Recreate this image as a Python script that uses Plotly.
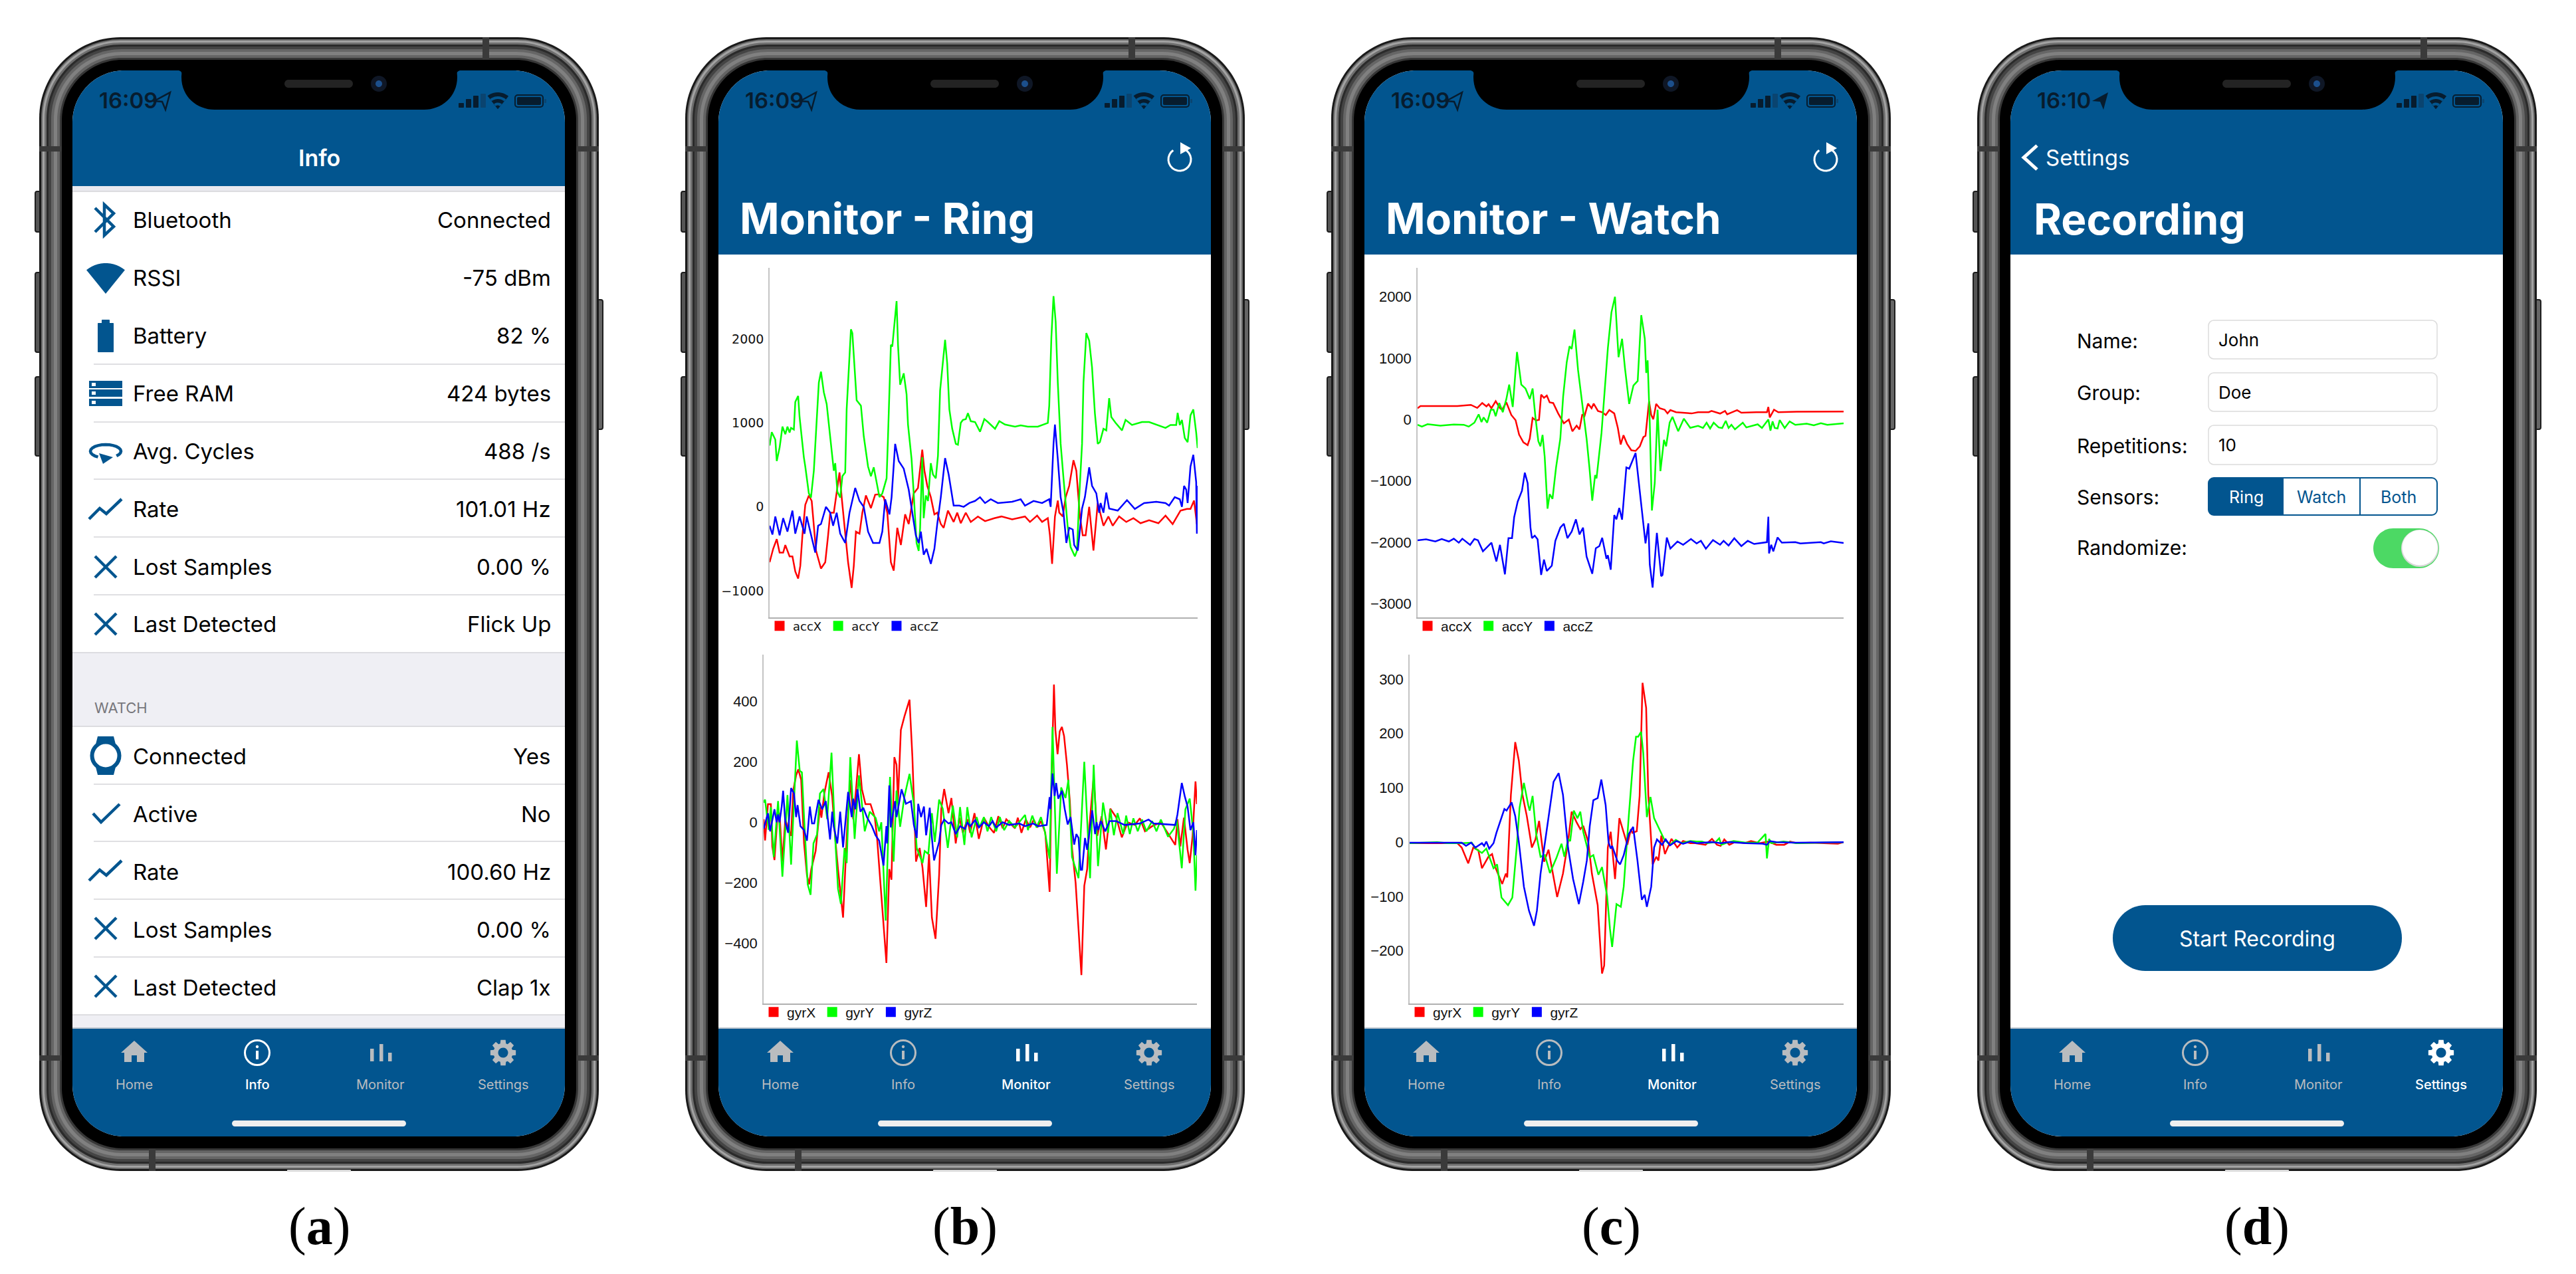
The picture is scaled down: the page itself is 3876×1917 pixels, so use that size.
import math

import plotly.graph_objects as go

# sample axis for all four charts runs 0..300
ring_acc_x_t = [0,2.5,5,7,9.5,11,14,16,18,20,21.5,23,25,27.5,29.5,32.5,36,39,41,42.5,45,47,49,50.5,52.5,55,57.5,59,60.5,63,65,67.5,71,74,76.5,80,82.5,85,87,89.5,92,95,97.5,101,104,107,108.5,110.5,113,115.5,117.5,120,122,125,129,131.5,134,137.5,141,146,151,157.5,162.5,170,179,182.5,187.5,191,195,196.5,198,200,202,203,205.5,207.5,210,213,215,217.5,219.5,221.5,224,227,230,234,237.5,240.5,245,250,255,260,266,272.5,277.5,282.5,288,292.5,295,297.5,299.5,300]
ring_acc_x_v = [-660,-500,-385,-545,-545,-455,-590,-590,-770,-855,-705,-340,25,135,70,-520,-735,-660,-340,-70,-70,160,410,115,-250,-660,-965,-705,-295,-320,-70,135,-15,145,150,115,-70,-660,-760,-250,-455,-90,-205,160,225,680,430,250,115,-90,-70,-205,-250,-45,-180,-70,-195,-70,-180,-115,-170,-135,-115,-150,-115,-180,-105,-180,-135,-340,-680,-115,75,-70,-115,115,250,555,430,-115,-340,-340,0,-520,45,-225,-115,-225,-115,-180,-135,-195,-160,-195,-105,-205,-45,-25,-25,75,-205,60]
ring_acc_y_t = [0,1.5,4,5,7,9,11,12.5,14,15,17,18,20,21,24,25,27.5,29,31,32.5,34.5,36,38,40,42.5,45,46,47.5,49.5,51,53,54,56,57,58,59.5,61,64,66,69,71,73,75,77,79,82,83,85,86,87.5,89,90,91.5,94,96,97,99.5,101,103,104.5,105.5,107,108,109.5,111,113,114.5,116.5,118,119.5,121,123,124.5,126,128,130.5,132,134,135.5,137.5,139,141,144,147.5,150.5,153,158,161,165,172,176,181,188,195,196,197.5,199,200.5,202,204,206,207,209,211,214,215.5,217,219,220,222,224,226,228,230,231.5,234,236,238,239.5,242.5,247,249.5,254,261,266,277.5,281,285,286,287.5,289,291,293,295,297,299,300]
ring_acc_y_v = [730,890,800,545,705,955,865,955,885,940,920,1250,1320,1070,590,480,160,110,430,930,1480,1610,1365,1225,840,430,520,180,110,365,410,1160,1795,2115,2070,1705,1270,1205,840,480,365,470,295,115,160,340,840,1930,1910,2200,2450,1930,1455,1590,1340,980,570,160,-430,-525,-250,590,-135,135,70,520,385,340,610,1385,1660,1990,1705,1160,930,750,740,1000,1035,1045,1115,1020,1010,895,1045,1010,930,1020,980,955,970,955,955,1000,1205,2020,2510,2205,1480,750,340,160,-250,-480,-590,-520,115,750,1480,2070,1980,1660,1115,750,770,930,910,1295,1070,1000,910,1035,975,1010,1010,940,975,975,1120,975,1035,820,770,1090,1160,885,700]
ring_acc_z_t = [0,2,4,7,9.5,12.5,16,18,21,24.5,26,29,32,34,36,39.5,42.5,44.5,47,49.5,53,56,60,63,66,69,72.5,77,79,81,84,85.5,88,90.5,94,97.5,100,102.5,104.5,106,108,110,113,115.5,117.5,120,123,125.5,129,133,136,140,144,147.5,151,155,160,170,176,179,185,191,196,197,199,200,202,204,206,208,210,212.5,213.5,216,219,221,224,226,229,231,232,234,236,238,244,250.5,256,262.5,271,277.5,280,284,287.5,289,290.5,292,293,295,297,299,299.5,300]
ring_acc_z_v = [-225,-330,-115,-340,-135,-295,-45,-320,-115,-320,-115,-340,-545,-225,-205,0,-70,-225,-70,-320,-430,-70,225,70,0,-295,-430,-430,-295,90,-90,115,750,545,455,205,-70,-340,-430,-295,-570,-500,-680,-500,-205,115,580,385,15,15,0,45,70,115,45,90,45,60,90,15,70,45,90,0,750,980,570,115,-70,-430,-250,-270,-455,-520,-20,115,470,250,160,-70,45,-70,170,-20,-45,80,-25,45,60,45,15,115,90,0,250,205,45,480,620,295,-320,250]

ring_gyr_x_t = [0,1,3,5,6,7.5,9.5,11,13,15,17,19,20.5,22.5,24,26,28,30,31.5,33,36,37.5,39,40,42,45,47.5,49.5,51.5,55,56.5,58,60,62,64,66,68,70.5,74,77,78.5,81,83.5,85,87,88.5,90.5,92,93,95,97.5,101,103,105.5,108,110,112.5,114.5,116.5,119,121.5,123,125,128,130,133,135.5,138,141,143,146,149,152.5,156,159.5,162.5,165.5,168,174,176,178.5,181.5,184.5,187,189.5,192,195,198,199.5,201,202,203.5,205,206.5,208,210,212,213.5,216,218,220,222,224,225.5,228.5,231,234,237,240,244,248,252,257,260.5,264,269,275,279,285,286.5,288.5,291,293.5,295,297,299,300]
ring_gyr_x_v = [10,-60,60,60,-80,-125,15,30,-130,10,-20,-45,105,155,175,140,-70,-175,-205,-155,-95,-15,50,15,95,165,85,-50,-155,-315,-150,0,140,10,110,225,110,60,60,15,-50,-210,-350,-465,-155,-190,215,190,70,305,350,405,215,-130,-85,-150,-280,-105,-315,-385,-175,45,110,30,80,-70,15,-35,10,-35,30,-55,15,-15,-35,20,-20,10,-20,15,-35,9,-17,9,-17,4,-35,-230,175,455,305,225,300,315,285,190,70,-85,-200,-365,-505,-210,-155,-15,150,-45,20,-90,45,17,-50,0,-9,13,-30,-13,0,-30,-75,10,-80,15,-90,-135,-45,135,60]
ring_gyr_y_t = [0,1,3.5,5,7,10,13,16.5,19,22,23,25,26.5,28,30.5,32.5,34.5,37,39,41.5,44,47,49.5,51.5,53.5,56,57.5,60,63,66,70,73.5,77.5,80,81.5,84.5,87.5,90,92,94.5,97.5,101,104,106,110,111.5,114,116.5,118.5,121.5,124,127.5,131,134,136,139,141,144,147.5,149.5,152.5,155,157.5,161,163.5,166.5,170,174,181,183,186,189,192,194.5,198,200,203,206,209,211,213.5,218,222,226,228.5,231.5,235,238.5,240,242.5,245,249,251,253.5,256,259,262,265,269,272,275,280,284,286,289.5,292,295,297.5,299,300]
ring_gyr_y_v = [65,75,-25,50,-115,70,-180,90,-140,165,270,170,165,15,-205,-240,-70,-40,95,110,10,230,-50,-220,-270,-85,-135,215,-55,155,-30,35,15,-30,0,-325,150,-130,105,-15,85,160,60,-85,-135,-95,-105,30,-65,75,45,-85,55,-50,50,-75,50,-50,17,-17,17,-30,17,-30,17,-26,4,-17,24,-26,22,-17,17,-26,-120,315,-170,115,80,140,-115,-185,200,-185,190,-145,65,-35,43,-43,30,-39,22,-39,13,-30,9,-30,4,-30,9,-48,-22,9,-152,43,78,-35,-226,-109]
ring_gyr_z_t = [0,3,4.5,7.5,9,10,11,12.5,13.5,15,17,19,21,22.5,23.5,25.5,28,30,32,33.5,35,38,40.5,43,44.5,46,47.5,48.5,51,53,55,58.5,61,62,63.5,65,67,69,71.5,75,77.5,80,83,85,85.5,87,88,91,92,95.5,98.5,102,104,106,107,109,111,112.5,115,116.5,118,119.5,121.5,123,125,128,130,133,136,139.5,141,143,146.5,149,152.5,156,158.5,161,165.5,170,177,181,186.5,190,196,198,198.5,200,201.5,202.5,204,206.5,208.5,210.5,212.5,215,216.5,218,219.5,220.5,222.5,224,227.5,229.5,230.5,231.5,233.5,236.5,239.5,244,250,260.5,266.5,270,285,286.5,289.5,291.5,293.5,295.5,297.5,299,300]
ring_gyr_z_v = [-22,30,-30,43,0,26,0,52,104,0,-35,113,96,17,57,-13,-26,-61,52,-4,-4,74,43,70,9,-57,35,-13,-70,35,-83,100,17,78,43,109,35,48,17,-13,-43,-61,-143,-13,-70,122,-17,70,17,109,61,70,-9,-52,61,17,52,-43,48,-52,-126,-100,-65,-9,9,-4,0,-39,-13,-22,0,-13,7,-17,0,-13,4,-17,0,-9,-4,-13,-4,-13,-9,83,43,161,87,130,78,104,43,-7,17,-74,-39,-52,-157,-157,-52,-91,39,-39,0,-26,4,-30,4,4,-9,-4,9,-4,-9,26,130,87,52,-26,0,-109,-26]

watch_acc_x_t = [0,2,28,37.5,42,45.5,48.5,50,52,55,58,59.5,62.5,66,69,71.5,74.5,77.5,79,81,83.5,85.5,87,89,91,93,95.5,99,103,106.5,109,112,114,116,117.5,120,122.5,124,127,130,132.5,135,138.5,141,143,145,147.5,150.5,153.5,156.5,159,160.5,163,164.5,166,168,170.5,174,176,178,182,188,193,197.5,205,207,213,216.5,218,225,228,238.5,246,247,248,251,254,267,300]
watch_acc_x_v = [185,220,220,240,190,270,215,250,185,300,185,160,280,75,-10,-245,-370,-415,-310,25,-15,-5,405,355,390,280,270,100,-60,0,-190,-100,-160,85,55,260,185,260,140,120,75,155,100,-135,-405,-255,-395,-500,-510,-435,-285,-265,300,75,5,255,185,160,100,155,120,111,100,120,120,141,98,141,85,154,111,120,120,205,34,162,120,128,132]
watch_acc_y_t = [0,3,7,16,25.5,32.5,36,40,43,45,46.5,49,51.5,53.5,55,57.5,60,62.5,64.5,67,70,73,76,77.5,79,81,83,85,86.5,88,89.5,91.5,93,95,97.5,100.5,102.5,105,107,108.5,110.5,113,115.5,119,121,123,125,126,129.5,132,134,136.5,139,141.5,144,146,149,152,155,157.5,160,161,162,163.5,165,167,169,171,173.5,175,177.5,179.5,183.5,187.5,192,197.5,201,203.5,206,208.5,212,214.5,217,219,221,223.5,229,231.5,239.5,242.5,247,248.5,250,251.5,253.5,255,258.5,262,266,274,279,284,288.5,300]
watch_acc_y_v = [-85,-115,-75,-100,-80,-85,-115,-50,85,-40,35,-50,160,160,55,270,120,335,570,205,1100,570,505,427,335,505,35,-350,-435,-250,-605,-1450,-1215,-1290,-780,-310,375,930,1195,1150,1465,805,335,-310,-780,-1320,-905,-957,-220,545,1165,1745,2000,1015,1315,845,255,555,630,1700,1315,760,965,-50,-1480,-1035,160,-840,-330,-435,-50,45,-190,15,-135,-103,-137,-51,-145,-51,-128,-137,-21,-137,-85,-158,-51,-128,-77,-137,0,-179,-30,-137,-145,-9,-137,-30,-85,-68,-94,-60,-85,-60]
watch_acc_z_t = [0,6,12.5,17,22,25.5,29,31.5,37,40,42.5,46,50.5,52,55.5,58,61.5,64,66.5,68,70.5,73.5,75.5,77.5,79.5,80.5,82.5,84.5,87,89,91,94.5,97,100.5,103,105.5,108.5,111.5,114,116.5,119,123,125.5,128,130,133,134,136,138.5,140,142,144,147,149,153.5,157,158.5,160.5,162.5,163.5,165.5,168.5,171.5,172.5,175.5,178,183,187,192.5,196.5,199.5,203,208,213,215.5,219,223,228,232.5,237,246,247,247.5,249,250.5,253.5,256.5,266,269.5,284,286,291,300]
watch_acc_z_v = [-1965,-1950,-1985,-1945,-1985,-1940,-2005,-1940,-2040,-1945,-1965,-2145,-2040,-2005,-2310,-2040,-2520,-1930,-1930,-1590,-1335,-1160,-865,-1035,-1760,-1930,-1890,-1950,-2530,-2280,-2465,-2380,-1975,-1760,-1695,-1930,-1825,-1625,-1870,-1760,-2230,-2510,-2095,-2060,-1925,-2265,-2210,-2445,-1555,-1625,-1440,-1630,-780,-800,-545,-1290,-1590,-2015,-1690,-2360,-2735,-1845,-2550,-2530,-1920,-2100,-1985,-2040,-1945,-2017,-1974,-2103,-1962,-2038,-1974,-2051,-1932,-2060,-1974,-2026,-1996,-1581,-2179,-2038,-2145,-1919,-2004,-1996,-2017,-1996,-2017,-1983,-2009]

watch_gyr_x_t = [0,33,36,40.5,44,47.5,50,54.5,57,59.5,64,66.5,67.5,70,73,75.5,78,81,84.5,87,89.5,93,96,99,102,106,109.5,112,115.5,118,120,123.5,126,130,133,134.5,137,139,142,145,150.5,153,154,157,159,161,163.5,165,168,170.5,172,174,176.5,181,185,189,194,197.5,204.5,209,212.5,215,217.5,221,225.5,231.5,236,242,248,253.5,259,263,267.5,277,296,300]
watch_gyr_x_v = [-2,-2,-10,-39,-10,-15,-48,-27,-22,-48,-77,-58,-65,87,184,150,87,48,-10,5,39,-36,-14,-58,-101,-58,0,56,36,24,30,0,-58,-116,-242,-227,-10,19,-68,44,-5,24,17,20,85,293,247,87,-41,-27,-34,12,-22,6,-10,2,-2,-2,-5,6,-5,-7,5,-5,1,-2,2,-2,1,-5,-5,1,-2,-1,-3,0]
watch_gyr_y_t = [0,19,26,36,43,45.5,50,53,58,60.5,63.5,68,71,74,76,79,82,83,85,87.5,90.5,93.5,97,101.5,105,107,109.5,111,113.5,116,118,120,124.5,127,130.5,133,136.5,138.5,140,143,146,148,151.5,154.5,156.5,158,160,161.5,164,166.5,169,172.5,176,180,184,188,194,198.5,202,205.5,211.5,214,215.5,219.5,224,232.5,240.5,246,247,248.5,250,258.5,267.5,300]
watch_gyr_y_v = [-2,0,-2,-2,-1,-12,-20,-12,-48,-41,-102,-116,-102,-10,63,109,68,58,85,15,-27,-24,-57,-29,-3,-27,5,2,58,44,56,19,-28,-24,-60,-46,-99,-160,-193,-114,-119,-82,48,150,194,194,203,164,46,83,44,24,5,-5,4,-2,2,1,1,-2,0,7,-5,-1,2,-1,-1,15,-30,6,-2,1,-2,0]
watch_gyr_z_t = [0,36,39,42.5,45.5,48.5,50,51.5,53,55,58,60,63.5,65.5,67,70.5,73,75.5,79,82.5,86,88,90.5,94,97.5,99.5,103,106,109.5,113,117,120,122.5,124.5,127,130,132.5,135.5,137.5,139,140,143.5,145.5,148,151.5,154.5,157.5,160.5,162.5,164,167,169,171,174.5,177,180,184.5,189,194,198.5,209,215,221,232.5,244,247,249,253.5,267.5,300]
watch_gyr_z_v = [-1,-1,-7,-1,-10,-5,-2,-7,1,-12,-2,17,46,61,58,73,48,0,-82,-126,-154,-126,-58,10,77,111,127,87,-10,-68,-114,-73,-34,29,77,81,115,68,0,-12,-7,-34,-41,-24,15,28,-34,-106,-97,-119,-82,-10,5,-5,5,-6,2,-3,1,-2,0,-2,0,-2,-3,-5,2,0,-1,0]

acc_names = ["accX", "accY", "accZ"]
gyr_names = ["gyrX", "gyrY", "gyrZ"]
trace_colors = ["#ff0000", "#00ff00", "#0000ff"]

ring_acc_ticks = [-1000, 0, 1000, 2000]
ring_gyr_ticks = [-400, -200, 0, 200, 400]
watch_acc_ticks = [-3000, -2000, -1000, 0, 1000, 2000]
watch_gyr_ticks = [-200, -100, 0, 100, 200, 300]

info_rows = ["Bluetooth", "RSSI", "Battery", "Free RAM", "Avg. Cycles", "Rate", "Lost Samples", "Last Detected"]
info_values = ["Connected", "-75 dBm", "82 %", "424 bytes", "488 /s", "101.01 Hz", "0.00 %", "Flick Up"]
watch_rows = ["Connected", "Active", "Rate", "Lost Samples", "Last Detected"]
watch_values = ["Yes", "No", "100.60 Hz", "0.00 %", "Clap 1x"]
tab_names = ["Home", "Info", "Monitor", "Settings"]
form_labels = ["Name:", "Group:", "Repetitions:", "Sensors:", "Randomize:"]
form_values = ["John", "Doe", "10"]
segments = ["Ring", "Watch", "Both"]

W, H = 3876, 1917
STEP = 972
BLUE = "#02558f"
DARK = "#071c2e"
UI_FONT = "Inter"

shapes = []
notes = []


def shape(path, fill=None, line=None, width=0):
    d = dict(type="path", path=path, xref="x", yref="y", layer="below",
             fillcolor=fill or "rgba(0,0,0,0)", line=dict(color=line or "rgba(0,0,0,0)", width=width))
    shapes.append(d)


def rrect(x0, y0, x1, y1, r):
    k = r * 0.45
    return (f"M{x0+r},{y0} L{x1-r},{y0} C{x1-k},{y0} {x1},{y0+k} {x1},{y0+r} L{x1},{y1-r} "
            f"C{x1},{y1-k} {x1-k},{y1} {x1-r},{y1} L{x0+r},{y1} C{x0+k},{y1} {x0},{y1-k} {x0},{y1-r} "
            f"L{x0},{y0+r} C{x0},{y0+k} {x0+k},{y0} {x0+r},{y0} Z")


def circle(cx, cy, r):
    return rrect(cx - r, cy - r, cx + r, cy + r, r)


def poly(pts, close=True):
    s = "M" + " L".join(f"{x},{y}" for x, y in pts)
    return s + (" Z" if close else "")


def sector(cx, cy, r, a0, a1):
    pts = [(cx, cy)]
    for t in range(a0, a1 + 1, 6):
        pts.append((cx + r * math.cos(math.radians(t)), cy - r * math.sin(math.radians(t))))
    return poly(pts)


def text(x, y, s, size, color="#000000", anchor="left", family=UI_FONT, weight=400):
    # annotations keep a small box padding, take it back here
    dx = {"left": -2, "right": 2, "center": 0}[anchor]
    notes.append(dict(x=x + dx, y=y, xref="x", yref="y", text=s, showarrow=False, xanchor=anchor, yanchor="middle",
                      font=dict(family=family, size=size, color=color, weight=weight)))


def top_bar(ox, bottom):
    shape(f"M{ox+109},{bottom} L{ox+109},184 C{ox+109},141 {ox+144},106 {ox+187},106 L{ox+772},106 "
          f"C{ox+815},106 {ox+850},141 {ox+850},184 L{ox+850},{bottom} Z", fill=BLUE)


def draw_phone(ox):
    # metal band, outside to inside
    bands = [(0, "#1a1a1a"), (3, "#6a6a6a"), (5, "#a2a2a2"), (8, "#6e6e6e"), (11, "#2a2a2a"), (14, "#444444"),
             (18, "#666666"), (22, "#808080"), (27, "#646464"), (31, "#363636"), (34, "#000000")]
    for y0, y1 in [(288, 349), (410, 530), (567, 686)]:
        shape(rrect(ox + 53, y0, ox + 62, y1, 3), fill="#555555", line="#1e1e1e", width=2)
    shape(rrect(ox + 898, 451, ox + 907, 646, 3), fill="#666666", line="#1e1e1e", width=2)
    for inset, col in bands:
        shape(rrect(ox + 59 + inset, 56 + inset, ox + 901 - inset, 1762 - inset, 122 - inset * 0.9), fill=col)
    # antenna breaks
    for x0, x1, y0, y1 in [(59, 93, 220, 228), (867, 901, 220, 228), (59, 93, 1588, 1596), (867, 901, 1588, 1596),
                           (726, 736, 56, 90), (224, 234, 1728, 1762)]:
        shape(rrect(ox + x0, y0, ox + x1, y1, 0), fill="#3a3a3a")
    shape(rrect(ox + 432, 1760, ox + 528, 1763, 1), fill="#d8d8d8")
    shape(rrect(ox + 109, 106, ox + 850, 1710, 78), fill="#ffffff")


def draw_notch(ox):
    x0, x1 = ox + 273, ox + 688
    shape(f"M{x0-4},100 L{x1+4},100 L{x1+4},106 C{x1-2},108 {x1},110 {x1},116 C{x1},146 {x1-24},165 {x1-50},165 "
          f"L{x0+50},165 C{x0+24},165 {x0},146 {x0},116 C{x0},110 {x0+2},108 {x0-4},106 Z", fill="#000000")
    shape(rrect(ox + 428, 120, ox + 531, 132, 6), fill="#232323")
    shape(circle(ox + 570, 126, 12), fill="#0f1726")
    shape(circle(ox + 570, 126, 5), fill="#1c4f8c")


def draw_status(ox, clock, solid):
    text(ox + 149, 151, clock, 33, DARK, weight=600)
    a = ox + 232
    arrow = [(a + 24, 139), (a + 17, 165), (a + 12, 153), (a, 152)]
    if solid:
        shape(poly(arrow), fill=DARK)
    else:
        shape(poly(arrow), line=DARK, width=2.5)
    for i, h in enumerate([7, 13, 18]):
        shape(rrect(ox + 690 + i * 11, 162 - h, ox + 698 + i * 11, 162, 1), fill=DARK)
    shape(rrect(ox + 723, 141, ox + 731, 162, 1), fill="#0a4470")
    # wifi fan
    for r, col in [(25, DARK), (19, BLUE), (15, DARK), (9.5, BLUE), (5.5, DARK)]:
        shape(sector(ox + 749, 164, r, 50, 130), fill=col)
    shape(rrect(ox + 775, 143, ox + 817, 161, 4), line=DARK, width=2)
    shape(rrect(ox + 778, 146, ox + 814, 158, 2), fill=DARK)
    shape(rrect(ox + 819, 149, ox + 822, 155, 1), fill="#0a4470")


def gear(cx, cy, col):
    pts = []
    for i in range(8):
        t = i * math.pi / 4
        for dt, r in [(-0.30, 14.5), (-0.19, 19.5), (0.19, 19.5), (0.30, 14.5)]:
            pts.append((cx + r * math.cos(t + dt), cy + r * math.sin(t + dt)))
    shape(poly(pts), fill=col)
    shape(circle(cx, cy, 7.5), fill=BLUE)


def draw_tabs(ox, active):
    shape(f"M{ox+109},1547 L{ox+850},1547 L{ox+850},1632 C{ox+850},1675 {ox+815},1710 {ox+772},1710 "
          f"L{ox+187},1710 C{ox+144},1710 {ox+109},1675 {ox+109},1632 Z", fill=BLUE)
    shape(rrect(ox + 109, 1546, ox + 850, 1548, 0), fill="#b8c2cc")
    cols = ["#ffffff" if i == active else "#b9bcbf" for i in range(4)]
    cx = [ox + 202, ox + 387, ox + 572, ox + 757]
    for i, name in enumerate(tab_names):
        text(cx[i], 1632, name, 20, cols[i], anchor="center", weight=500 if i == active else 400)
    x = cx[0]
    shape(poly([(x, 1566), (x + 20, 1584), (x + 15, 1584), (x + 15, 1598), (x + 4, 1598), (x + 4, 1588), (x - 4, 1588),
                (x - 4, 1598), (x - 15, 1598), (x - 15, 1584), (x - 20, 1584)]), fill=cols[0])
    x = cx[1]
    shape(circle(x, 1584, 18.5), line=cols[1], width=3)
    shape(circle(x, 1575, 2.2), fill=cols[1])
    shape(rrect(x - 2, 1581, x + 2, 1594, 0), fill=cols[1])
    x = cx[2]
    for dx, top in [(-15, 1578), (-1, 1571), (12, 1584)]:
        shape(rrect(x + dx, top, x + dx + 5.5, 1597, 0), fill=cols[2])
    gear(cx[3], 1584, cols[3])
    shape(rrect(ox + 349, 1686, ox + 611, 1695, 4.5), fill="#efefef")


def draw_refresh(ox):
    cx, cy = ox + 803, 240
    arc = [(cx + 17 * math.cos(math.radians(t)), cy + 17 * math.sin(math.radians(t))) for t in range(-65, 250, 15)]
    shape(poly(arc, close=False), line="#ffffff", width=3)
    shape(poly([(cx + 1, cy - 26), (cx + 17, cy - 17), (cx + 1, cy - 8)]), fill="#ffffff")


def x_icon(x, y):
    shape(poly([(x - 16, y - 16), (x + 16, y + 16)], close=False), line=BLUE, width=4.5)
    shape(poly([(x + 16, y - 16), (x - 16, y + 16)], close=False), line=BLUE, width=4.5)


def rate_icon(x, y):
    shape(poly([(x - 25, y + 15), (x - 9, y - 1), (x + 1, y + 7), (x + 24, y - 15)], close=False), line=BLUE, width=4.5)


def draw_info(ox):
    top_bar(ox, 280)
    shape(rrect(ox + 109, 280, ox + 850, 288, 0), fill="#e9e9ef")
    shape(rrect(ox + 109, 982, ox + 850, 1093, 0), fill="#efeff4")
    shape(rrect(ox + 109, 1527, ox + 850, 1547, 0), fill="#efeff4")
    text(ox + 480, 237, "Info", 34, "#ffffff", anchor="center", weight=600)
    text(ox + 142, 1065, "WATCH", 22, "#77777c")
    top_y = [331, 418, 505, 592, 679, 766, 853, 939]
    for s, v, y in zip(info_rows, info_values, top_y):
        text(ox + 200, y, s, 33)
        text(ox + 829, y, v, 33, anchor="right")
    for y in [548, 635, 721, 808, 895]:
        shape(f"M{ox+141},{y} L{ox+850},{y}", line="#d4d4d8", width=1.5)
    for y in [288, 982, 1093, 1527]:
        shape(f"M{ox+109},{y} L{ox+850},{y}", line="#d4d4d8", width=1.5)
    low_y = [1138, 1225, 1312, 1399, 1486]
    for s, v, y in zip(watch_rows, watch_values, low_y):
        text(ox + 200, y, s, 33)
        text(ox + 829, y, v, 33, anchor="right")
    for y in [1180, 1266, 1353, 1440]:
        shape(f"M{ox+141},{y} L{ox+850},{y}", line="#d4d4d8", width=1.5)
    # row icons
    shape(poly([(ox + 143, 313), (ox + 171, 341), (ox + 157, 354), (ox + 157, 308), (ox + 171, 321), (ox + 143, 349)],
               close=False), line=BLUE, width=4.5)
    shape(sector(ox + 159, 442, 46, 51, 129), fill=BLUE)
    shape(rrect(ox + 147, 486, ox + 171, 530, 1), fill=BLUE)
    shape(rrect(ox + 153, 481, ox + 165, 487, 1), fill=BLUE)
    for y in [573, 586, 600]:
        shape(rrect(ox + 134, y, ox + 184, y + 11, 0), fill=BLUE)
        shape(rrect(ox + 138, y + 3, ox + 144, y + 8, 0), fill="#ffffff")
    ring = [(ox + 159 + 23 * math.cos(math.radians(t)), 679 + 10 * math.sin(math.radians(t))) for t in range(-240, 60, 15)]
    shape(poly(ring, close=False), line=BLUE, width=4.5)
    shape(poly([(ox + 149, 682), (ox + 170, 688), (ox + 155, 698)]), fill=BLUE)
    rate_icon(ox + 159, 766)
    x_icon(ox + 159, 853)
    x_icon(ox + 159, 939)
    # watch section icons
    shape(poly([(ox + 147, 1108), (ox + 171, 1108), (ox + 175, 1124), (ox + 175, 1150), (ox + 171, 1166), (ox + 147, 1166),
                (ox + 143, 1150), (ox + 143, 1124)]), fill=BLUE)
    shape(circle(ox + 159, 1137, 20.5), fill="#ffffff", line=BLUE, width=6)
    shape(poly([(ox + 140, 1224), (ox + 152, 1237), (ox + 180, 1210)], close=False), line=BLUE, width=4.5)
    rate_icon(ox + 159, 1310)
    x_icon(ox + 159, 1397)
    x_icon(ox + 159, 1484)


def draw_monitor(ox, title):
    top_bar(ox, 383)
    text(ox + 141, 328, title, 64, "#ffffff", weight=700)
    draw_refresh(ox)


def draw_settings(ox):
    top_bar(ox, 383)
    shape(poly([(ox + 149, 219), (ox + 129, 237), (ox + 149, 255)], close=False), line="#ffffff", width=5)
    text(ox + 162, 237, "Settings", 33, "#ffffff")
    text(ox + 144, 329, "Recording", 64, "#ffffff", weight=700)
    for s, y in zip(form_labels, [513, 591, 671, 748, 824]):
        text(ox + 209, y, s, 30)
    left, right = ox + 407, ox + 751
    for (y0, y1), v in zip([(482, 540), (561, 619), (640, 699)], form_values):
        shape(rrect(left, y0, right, y1, 8), line="#dcdcdc", width=1.5, fill="#ffffff")
        text(left + 15, y0 + 29, v, 26)
    shape(rrect(left, 719, right, 775, 8), line=BLUE, width=2, fill="#ffffff")
    shape(rrect(left, 719, left + 113, 775, 8), fill=BLUE)
    shape(rrect(left + 80, 719, left + 113, 775, 0), fill=BLUE)
    shape(f"M{left+228},719 L{left+228},775", line=BLUE, width=2)
    for i, s in enumerate(segments):
        text(left + [57, 170, 286][i], 748, s, 25, "#ffffff" if i == 0 else BLUE, anchor="center")
    tx = ox + 655
    shape(rrect(tx, 795, tx + 99, 855, 30), fill="#4cd964")
    shape(circle(tx + 70, 825, 28), fill="#d8d8d8")
    shape(circle(tx + 70, 824, 26.5), fill="#ffffff")
    bx = ox + 263
    shape(rrect(bx, 1362, bx + 435, 1461, 49), fill=BLUE)
    text(bx + 217, 1412, "Start Recording", 32, "#ffffff", anchor="center")


ox_a, ox_b, ox_c, ox_d = 0, STEP, 2 * STEP, 3 * STEP

for ox in [ox_a, ox_b, ox_c, ox_d]:
    draw_phone(ox)

draw_info(ox_a)
draw_monitor(ox_b, "Monitor - Ring")
draw_monitor(ox_c, "Monitor - Watch")
draw_settings(ox_d)

for ox, clock, solid, tab in [(ox_a, "16:09", False, 1), (ox_b, "16:09", False, 2), (ox_c, "16:09", False, 2), (ox_d, "16:10", True, 3)]:
    draw_notch(ox)
    draw_status(ox, clock, solid)
    draw_tabs(ox, tab)

for ox, s in zip([ox_a, ox_b, ox_c, ox_d], "abcd"):
    text(ox + 480, 1845, f"(<b>{s}</b>)", 80, anchor="center", family="Liberation Serif")

fig = go.Figure()
# full canvas axes carry the phone drawing
fig.add_trace(go.Scatter(x=[None], y=[None], xaxis="x", yaxis="y", showlegend=False))

charts = [
    dict(box=(1158, 403, 1802, 929), yrange=(-1317, 2847), ticks=ring_acc_ticks, names=acc_names, font=("DejaVu Sans", 19),
         series=[(ring_acc_x_t, ring_acc_x_v), (ring_acc_y_t, ring_acc_y_v), (ring_acc_z_t, ring_acc_z_v)], legend_y=942),
    dict(box=(1149, 985, 1801, 1510), yrange=(-599, 554), ticks=ring_gyr_ticks, names=gyr_names, font=("Liberation Sans", 22),
         series=[(ring_gyr_x_t, ring_gyr_x_v), (ring_gyr_y_t, ring_gyr_y_v), (ring_gyr_z_t, ring_gyr_z_v)], legend_y=1523),
    dict(box=(2133, 403, 2774, 929), yrange=(-3221, 2471), ticks=watch_acc_ticks, names=acc_names, font=("Liberation Sans", 22),
         series=[(watch_acc_x_t, watch_acc_x_v), (watch_acc_y_t, watch_acc_y_v), (watch_acc_z_t, watch_acc_z_v)], legend_y=942),
    dict(box=(2121, 985, 2774, 1510), yrange=(-297, 345), ticks=watch_gyr_ticks, names=gyr_names, font=("Liberation Sans", 22),
         series=[(watch_gyr_x_t, watch_gyr_x_v), (watch_gyr_y_t, watch_gyr_y_v), (watch_gyr_z_t, watch_gyr_z_v)], legend_y=1523),
]

axes = {}
legends = {}
for i, c in enumerate(charts):
    n = i + 2
    x0, y0, x1, y1 = c["box"]
    lname = "legend" if i == 0 else f"legend{i+1}"
    for (t, v), col, name in zip(c["series"], trace_colors, c["names"]):
        fig.add_trace(go.Scatter(x=t, y=v, mode="lines", line=dict(color=col, width=2.5), xaxis=f"x{n}", yaxis=f"y{n}",
                                 showlegend=False, name=name))
        # square key as in the app
        fig.add_trace(go.Scatter(x=[None], y=[None], mode="markers", marker=dict(symbol="square", size=15, color=col),
                                 xaxis=f"x{n}", yaxis=f"y{n}", name=name, legend=lname))
    axes[f"xaxis{n}"] = dict(domain=[x0 / W, x1 / W], range=[0, 300], anchor=f"y{n}", showticklabels=False, ticks="",
                             showgrid=False, zeroline=False, showline=True, linecolor="#b0b0b0", linewidth=1.5)
    axes[f"yaxis{n}"] = dict(domain=[1 - y1 / H, 1 - y0 / H], range=list(c["yrange"]), anchor=f"x{n}", tickvals=c["ticks"],
                             ticks="", showgrid=False, zeroline=False, showline=True, linecolor="#c4c4c4", linewidth=1.5,
                             ticklabelstandoff=3, tickfont=dict(family=c["font"][0], size=c["font"][1], color="#111111"))
    legends[lname] = dict(orientation="h", x=(x0 - 5) / W, xanchor="left", y=1 - c["legend_y"] / H, yanchor="middle",
                          bgcolor="rgba(0,0,0,0)", itemwidth=30, itemsizing="trace", traceorder="normal",
                          font=dict(family=c["font"][0], size=21 if c["font"][1] > 20 else 18, color="#111111"))

fig.update_layout(
    width=W, height=H, autosize=False, margin=dict(l=0, r=0, t=0, b=0, pad=0),
    paper_bgcolor="#ffffff", plot_bgcolor="rgba(0,0,0,0)", showlegend=True, hovermode=False,
    xaxis=dict(domain=[0, 1], range=[0, W], visible=False, fixedrange=True),
    yaxis=dict(domain=[0, 1], range=[H, 0], visible=False, fixedrange=True),
    shapes=shapes, annotations=notes, **axes, **legends,
)

fig.write_html("out.html", config=dict(displayModeBar=False),
               post_script="document.body.style.margin='0';document.body.style.overflow='hidden';")
